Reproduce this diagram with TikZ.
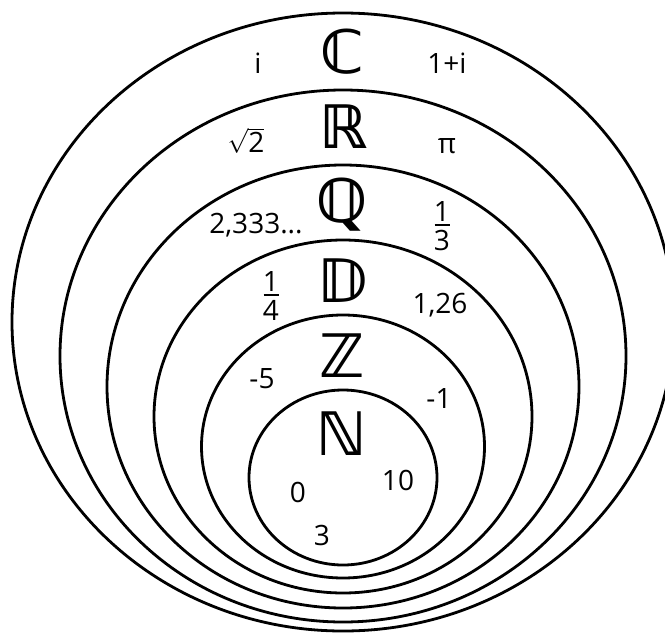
\documentclass[tikz,border=0pt]{standalone}
\usepackage{fontspec}
\setmainfont{Open Sans}
\newfontfamily\bbfont{DejaVu Sans}
\usetikzlibrary{shapes.geometric}
\tikzset{
  setring/.style={ellipse, draw, line width=2.8pt, inner sep=0pt, outer sep=0pt},
  setname/.style={font=\bbfont\bfseries\fontsize{60}{60}\selectfont, inner sep=0pt, anchor=base},
  elem/.style={font=\fontsize{28}{34}\selectfont, inner sep=0pt, anchor=base},
  fracel/.style={font=\fontsize{28}{34}\selectfont, inner sep=0pt, align=center, anchor=center}
}
\newcommand\fracbox[2]{#1\\[-29.6pt]\rule{15pt}{2pt}\\[-9.6pt]#2}
\begin{document}
\begin{tikzpicture}[x=1pt,y=-1pt]
\useasboundingbox (0,0) rectangle (665,633);
\clip (0,0) rectangle (665,633);
% nested sets
\node[setring, minimum width=662pt, minimum height=618pt] (ringC) at (343,322) {};
\node[setring, minimum width=566pt, minimum height=532pt] (ringR) at (343,356) {};
\node[setring, minimum width=472pt, minimum height=443pt] (ringQ) at (343,386.5) {};
\node[setring, minimum width=378pt, minimum height=353pt] (ringD) at (343,416.5) {};
\node[setring, minimum width=283pt, minimum height=263pt] (ringZ) at (343,446.5) {};
\node[setring, minimum width=188pt, minimum height=175pt] (ringN) at (343,477.5) {};
% set names
\node[setname] (nameC) at (343,73) {ℂ};
\node[setname] (nameR) at (344,148) {ℝ};
\node[setname] (nameQ) at (342,222) {ℚ};
\node[setname] (nameD) at (343,302) {𝔻};
\node[setname] (nameZ) at (342,377) {ℤ};
\node[setname] (nameN) at (342,455) {ℕ};
% elements
\node[elem] (ei) at (258,73) {i};
\node[elem] (e1i) at (447,73) {1+i};
\node[elem] (esqrt) at (246,152) {$\sqrt{\mbox{2}}$};
\node[elem] (epi) at (447,153) {π};
\node[elem] (erep) at (256,233) {2,333...};
\node[fracel] (ethird) at (442,226) {\fracbox{1}{3}};
\node[fracel] (equarter) at (271,296) {\fracbox{1}{4}};
\node[elem] (edec) at (440,313) {1,26};
\node[elem] (em5) at (262,388) {-5};
\node[elem] (em1) at (439,408) {-1};
\node[elem] (e10) at (398,490) {10};
\node[elem] (e0) at (298,502) {0};
\node[elem] (e3) at (322,545) {3};
\end{tikzpicture}
\end{document}
